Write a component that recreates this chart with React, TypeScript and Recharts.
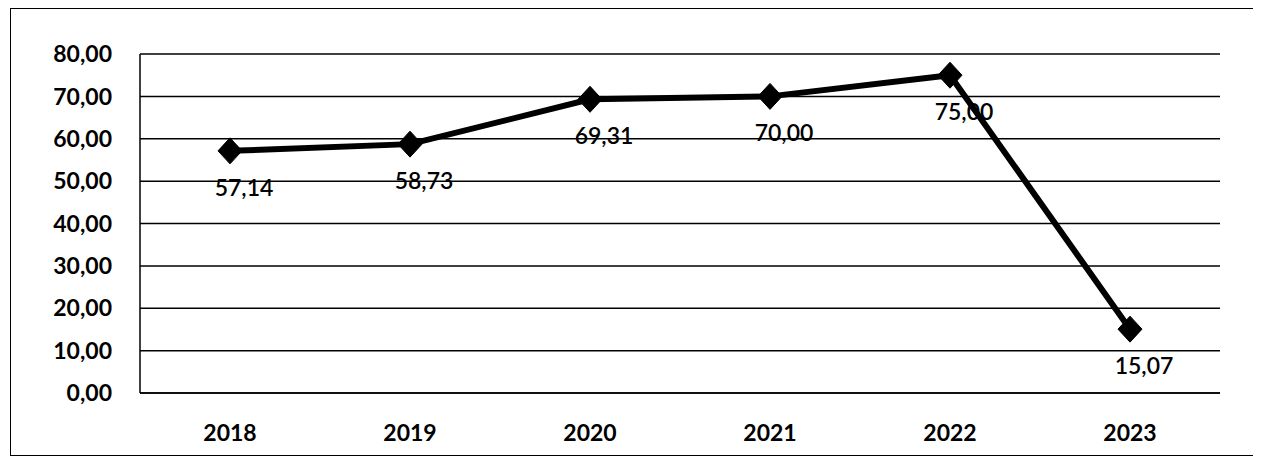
import React from 'react';
import { LineChart, Line, XAxis, YAxis, CartesianGrid, LabelList } from 'recharts';

const years = ['2018', '2019', '2020', '2021', '2022', '2023'];
const values = [57.14, 58.73, 69.31, 70.0, 75.0, 15.07];
const yTicks = [0, 10, 20, 30, 40, 50, 60, 70, 80];

const data = years.map((year, i) => ({ year, value: values[i] }));

const fmt = (v: number) => v.toFixed(2).replace('.', ',');

const FONT = 'Lato, "Open Sans", sans-serif';

const Diamond = (props: any) => {
    const { cx, cy } = props;
    if (cx == null || cy == null) return null;
    const w = 12;
    const h = 13;
    return (
        <polygon
            points={`${cx},${cy - h} ${cx + w},${cy} ${cx},${cy + h} ${cx - w},${cy}`}
            fill="#000"
            stroke="#000"
        />
    );
};

const ValueLabel = (props: any) => {
    const { x, y, value } = props;
    return (
        <text
            x={x + 14}
            y={y + 36}
            textAnchor="middle"
            dominantBaseline="central"
            fontFamily={FONT}
            fontSize={23}
            fontWeight={600}
            fill="#000"
        >
            {fmt(value)}
        </text>
    );
};

export default function App() {
    return (
        <div
            style={{
                marginLeft: 2,
                width: 1242,
                height: 446,
                border: '1px solid #000',
                background: '#fff',
            }}
        >
            <LineChart
                width={1242}
                height={446}
                data={data}
                margin={{ top: 45, right: 33, left: 0, bottom: 0 }}
            >
                <CartesianGrid vertical={false} stroke="#000" strokeWidth={1.5} />
                <XAxis
                    dataKey="year"
                    height={62}
                    padding={{ left: 90, right: 90 }}
                    axisLine={{ stroke: '#000', strokeWidth: 1.5 }}
                    tickLine={false}
                    tickSize={0}
                    tickMargin={32}
                    tick={{ fill: '#000', fontSize: 23, fontWeight: 700, fontFamily: FONT }}
                />
                <YAxis
                    width={129}
                    domain={[0, 80]}
                    ticks={yTicks}
                    interval={0}
                    axisLine={{ stroke: '#000', strokeWidth: 1.5 }}
                    tickLine={false}
                    tickSize={0}
                    tickMargin={28}
                    tickFormatter={fmt}
                    tick={{ fill: '#000', fontSize: 23, fontWeight: 700, fontFamily: FONT }}
                />
                <Line
                    type="linear"
                    dataKey="value"
                    stroke="#000"
                    strokeWidth={6}
                    dot={<Diamond />}
                    activeDot={false}
                    isAnimationActive={false}
                >
                    <LabelList dataKey="value" content={<ValueLabel />} />
                </Line>
            </LineChart>
        </div>
    );
}
